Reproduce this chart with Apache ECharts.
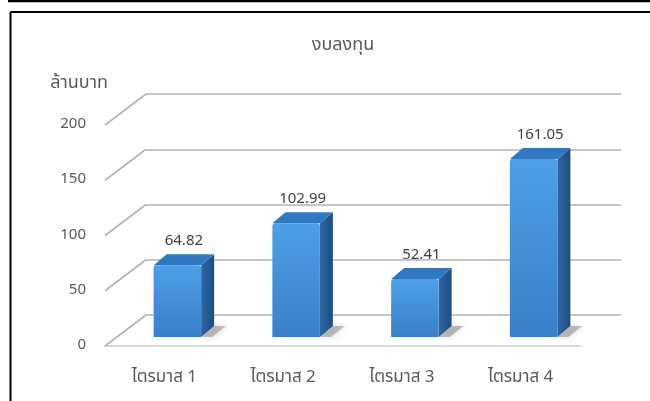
<!DOCTYPE html>
<html>
<head>
<meta charset="utf-8">
<script src="https://cdn.jsdelivr.net/npm/echarts@6/dist/echarts.min.js"></script>
<style>
  html, body { margin: 0; padding: 0; background: #fff; }
  #chart { width: 650px; height: 401px; }
</style>
</head>
<body>
<div id="chart"></div>
<script>
const quarters = ['ไตรมาส 1', 'ไตรมาส 2', 'ไตรมาส 3', 'ไตรมาส 4'];
const budget = [64.82, 102.99, 52.41, 161.05];
const yTicks = [0, 50, 100, 150, 200];

const FONT = '"Noto Sans Thai", "Noto Sans", sans-serif';
// depth of the 3d wall/floor, in pixels
const WALL_DX = 41, WALL_DY = -31;
const BAR_DX = 13, BAR_DY = -11;
const PLANE_DX = 13, PLANE_DY = -9;

const chart = echarts.init(document.getElementById('chart'));

function renderWallDiag(params, api) {
  const v = api.value(0);
  const x0 = params.coordSys.x;
  const y0 = api.coord([0, v])[1];
  return {
    type: 'line',
    shape: { x1: x0, y1: y0, x2: x0 + WALL_DX, y2: y0 + WALL_DY },
    style: { stroke: '#b3b3b3', lineWidth: 1.6 }
  };
}

function renderBar(params, api) {
  const idx = api.value(0);
  const val = api.value(1);
  const base = api.coord([idx, 0]);
  const top = api.coord([idx, val]);
  const w = api.size([1, 0])[0] * 0.4;
  const l = base[0] + PLANE_DX - w / 2;
  const r = l + w;
  const b = base[1] + PLANE_DY;
  const t = top[1] + PLANE_DY;
  return {
    type: 'group',
    children: [
      {
        type: 'polygon',
        shape: { points: [[r, b], [r + BAR_DX, b + BAR_DY], [r + BAR_DX + 12, b + BAR_DY], [r + 11, b]] },
        style: { fill: 'rgba(90,90,90,0.35)', shadowBlur: 6, shadowColor: 'rgba(0,0,0,0.45)' }
      },
      {
        type: 'polygon',
        shape: { points: [[r, t], [r + BAR_DX, t + BAR_DY], [r + BAR_DX, b + BAR_DY], [r, b]] },
        style: {
          fill: new echarts.graphic.LinearGradient(0, 0, 1, 0, [
            { offset: 0, color: '#2d67a6' },
            { offset: 1, color: '#1e4c7e' }
          ])
        }
      },
      {
        type: 'polygon',
        shape: { points: [[l, t], [l + BAR_DX, t + BAR_DY], [r + BAR_DX, t + BAR_DY], [r, t]] },
        style: { fill: '#2f78c2' }
      },
      {
        type: 'rect',
        shape: { x: l, y: t, width: w, height: b - t, r: [3, 3, 0, 0] },
        style: {
          fill: new echarts.graphic.LinearGradient(0, 0, 0, 1, [
            { offset: 0, color: '#4d9fe6' },
            { offset: 1, color: '#3a80c9' }
          ])
        }
      },
      {
        type: 'text',
        style: {
          x: (l + r + BAR_DX) / 2,
          y: t + BAR_DY - 12,
          text: String(val),
          fill: '#404040',
          font: '15px ' + FONT,
          align: 'center',
          verticalAlign: 'middle'
        }
      }
    ]
  };
}

const option = {
  backgroundColor: '#fff',
  animation: false,
  title: {
    text: 'งบลงทุน',
    left: 338,
    top: 32,
    textAlign: 'center',
    textStyle: { fontFamily: FONT, fontSize: 18, fontWeight: 'normal', color: '#595959' }
  },
  graphic: [
    { type: 'line', shape: { x1: 8, y1: 1, x2: 650, y2: 1 }, style: { stroke: '#000', lineWidth: 2.5 } },
    { type: 'line', shape: { x1: 10.5, y1: 12, x2: 650, y2: 12 }, style: { stroke: '#000', lineWidth: 2 } },
    { type: 'line', shape: { x1: 10.5, y1: 12, x2: 10.5, y2: 401 }, style: { stroke: '#000', lineWidth: 2 } }
  ],
  grid: [
    { left: 105, right: 70, top: 125, bottom: 55 },
    { left: 146, right: 29, top: 94, bottom: 86 }
  ],
  xAxis: [
    {
      type: 'category',
      gridIndex: 0,
      data: quarters,
      axisLine: { lineStyle: { color: '#d9d9d9', width: 2 } },
      axisTick: { show: false },
      axisLabel: { margin: 24, fontFamily: FONT, fontSize: 17, color: '#595959' }
    },
    { type: 'category', gridIndex: 1, data: quarters, show: false }
  ],
  yAxis: [
    {
      type: 'value',
      gridIndex: 0,
      min: 0,
      max: 200,
      interval: 50,
      name: 'ล้านบาท',
      nameGap: 32,
      nameTextStyle: { fontFamily: FONT, fontSize: 18, color: '#595959', align: 'right', padding: [0, -3, 0, 0] },
      axisLine: { show: false },
      axisTick: { show: false },
      splitLine: { show: false },
      axisLabel: { margin: 19, padding: [4, 0, 0, 0], fontFamily: FONT, fontSize: 15, color: '#595959' }
    },
    {
      type: 'value',
      gridIndex: 1,
      min: 0,
      max: 200,
      interval: 50,
      axisLine: { show: false },
      axisTick: { show: false },
      axisLabel: { show: false },
      splitLine: { lineStyle: { color: '#b3b3b3', width: 1.6 } }
    }
  ],
  series: [
    {
      type: 'custom',
      xAxisIndex: 0,
      yAxisIndex: 0,
      silent: true,
      renderItem: renderWallDiag,
      data: yTicks.map(v => [v]),
      encode: { y: 0 }
    },
    {
      type: 'custom',
      xAxisIndex: 0,
      yAxisIndex: 0,
      renderItem: renderBar,
      data: budget.map((v, i) => [i, v]),
      encode: { x: 0, y: 1 },
      z: 5
    }
  ]
};

chart.setOption(option);
</script>
</body>
</html>
